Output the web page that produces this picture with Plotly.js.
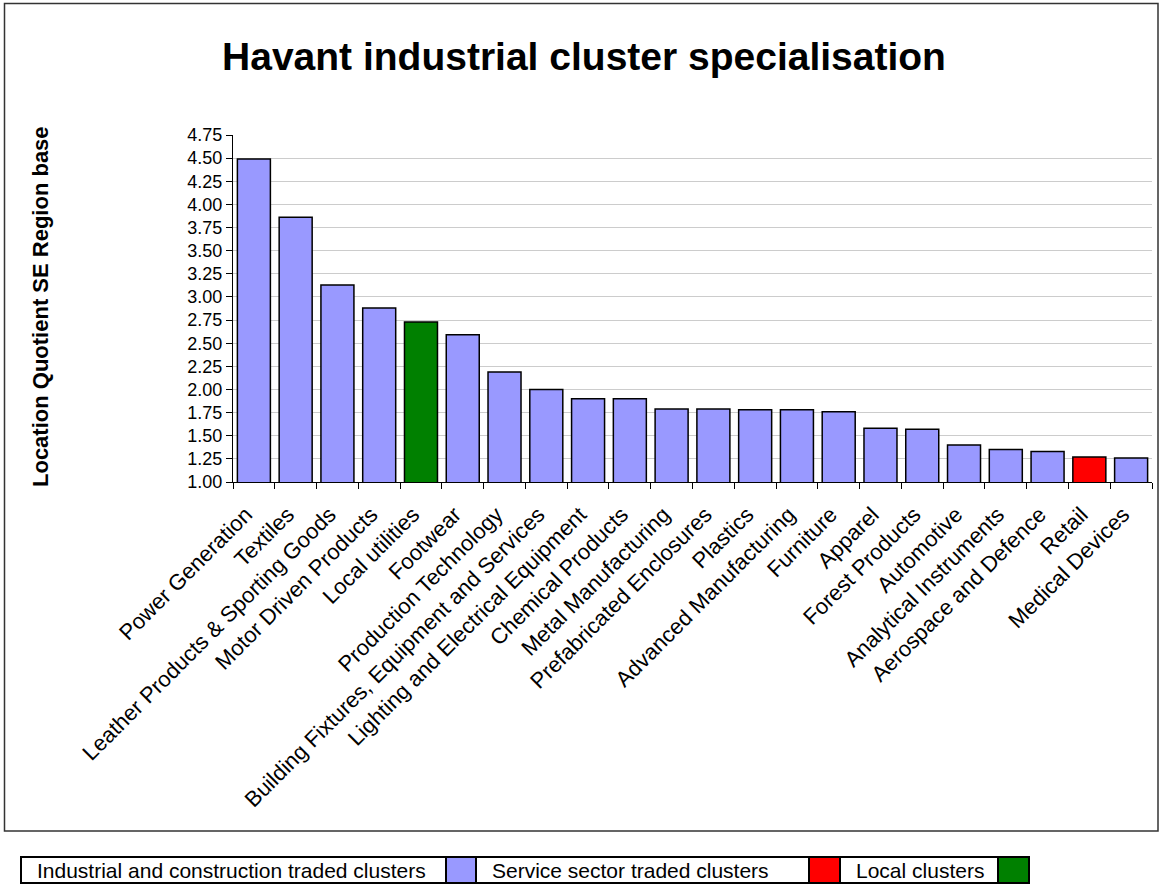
<!DOCTYPE html>
<html>
<head>
<meta charset="utf-8">
<script src="https://cdn.plot.ly/plotly-3.0.1.min.js"></script>
<style>
  html, body { margin: 0; padding: 0; background: #ffffff; }
  #chart { width: 1163px; height: 885px; }
</style>
</head>
<body>
<div id="chart"></div>
<script>
// ---- data ----
const categories = [
  "Power Generation", "Textiles", "Leather Products & Sporting Goods",
  "Motor Driven Products", "Local utilities", "Footwear",
  "Production Technology", "Building Fixtures, Equipment and Services",
  "Lighting and Electrical Equipment", "Chemical Products",
  "Metal Manufacturing", "Prefabricated Enclosures", "Plastics",
  "Advanced Manufacturing", "Furniture", "Apparel", "Forest Products",
  "Automotive", "Analytical Instruments", "Aerospace and Defence",
  "Retail", "Medical Devices"
];
const locationQuotient = [
  4.49, 3.86, 3.13, 2.88, 2.73, 2.59, 2.19, 2.00, 1.90, 1.90,
  1.79, 1.79, 1.78, 1.78, 1.76, 1.58, 1.57, 1.40, 1.35, 1.33,
  1.27, 1.26
];
const clusterType = [
  "industrial", "industrial", "industrial", "industrial", "local", "industrial",
  "industrial", "industrial", "industrial", "industrial", "industrial",
  "industrial", "industrial", "industrial", "industrial", "industrial",
  "industrial", "industrial", "industrial", "industrial", "service", "industrial"
];
const legendLabels = [
  "Industrial and construction traded clusters",
  "Service sector traded clusters",
  "Local clusters"
];
const legendTypes = ["industrial", "service", "local"];
const titleText = "Havant industrial cluster specialisation";
const yTitleText = "Location Quotient SE Region base";

// ---- styles ----
const typeColor = { industrial: "#9999FF", service: "#FF0000", local: "#008000" };
const FONT = "Arial, 'Liberation Sans', sans-serif";
const W = 1163, H = 885;
const M = { l: 233, r: 11, t: 135, b: 403 };
const PW = W - M.l - M.r, PH = H - M.t - M.b;
const px2x = px => (px - M.l) / PW;
const px2y = py => (H - M.b - py) / PH;

const trace = {
  type: "bar",
  x: categories,
  y: locationQuotient,
  marker: {
    color: clusterType.map(t => typeColor[t]),
    line: { color: "#000000", width: 1.5 }
  },
  hoverinfo: "x+y",
  showlegend: false
};

const shapes = [];
const annotations = [];

// outer chart frame
shapes.push({
  type: "rect", xref: "paper", yref: "paper",
  x0: px2x(4.5), x1: px2x(1158), y0: px2y(3.5), y1: px2y(831),
  line: { color: "#333333", width: 1.5 }, fillcolor: "rgba(0,0,0,0)", layer: "below"
});

// y axis title
annotations.push({
  xref: "paper", yref: "paper",
  x: px2x(40), y: px2y(307),
  text: "<b>" + yTitleText + "</b>",
  textangle: -90, showarrow: false,
  font: { family: FONT, size: 22, color: "#000000" },
  xanchor: "center", yanchor: "middle"
});

// table-style legend: text cell followed by colour swatch
const cellEdges = [21, 446, 476, 809, 840, 998, 1029];
const rowTop = 857, rowBot = 883;
legendLabels.forEach((lab, i) => {
  const tx0 = cellEdges[2 * i], tx1 = cellEdges[2 * i + 1], sx1 = cellEdges[2 * i + 2];
  shapes.push({
    type: "rect", xref: "paper", yref: "paper",
    x0: px2x(tx0), x1: px2x(tx1), y0: px2y(rowTop), y1: px2y(rowBot),
    line: { color: "#000000", width: 2 }, fillcolor: "#ffffff"
  });
  shapes.push({
    type: "rect", xref: "paper", yref: "paper",
    x0: px2x(tx1), x1: px2x(sx1), y0: px2y(rowTop), y1: px2y(rowBot),
    line: { color: "#000000", width: 2 }, fillcolor: typeColor[legendTypes[i]]
  });
  annotations.push({
    xref: "paper", yref: "paper",
    x: px2x(tx0 + 14), y: px2y((rowTop + rowBot) / 2),
    text: lab, showarrow: false,
    xanchor: "left", yanchor: "middle",
    font: { family: FONT, size: 21, color: "#000000" }
  });
});

const layout = {
  width: W, height: H,
  margin: M,
  paper_bgcolor: "#ffffff",
  plot_bgcolor: "#ffffff",
  font: { family: FONT, color: "#000000" },
  title: {
    text: "<b>" + titleText + "</b>",
    font: { family: FONT, size: 39, color: "#000000" },
    x: 584 / W, xanchor: "center",
    y: 1 - 56 / H, yanchor: "middle",
    xref: "container", yref: "container"
  },
  bargap: 0.21,
  xaxis: {
    type: "category",
    tickangle: -45,
    tickson: "boundaries",
    ticks: "outside", ticklen: 6, tickwidth: 1, tickcolor: "#000000",
    showline: true, linecolor: "#000000", linewidth: 1,
    showgrid: false,
    tickfont: { family: FONT, size: 22, color: "#000000" },
    ticklabelstandoff: 10,
    ticklabelshift: -8,
    automargin: false
  },
  yaxis: {
    range: [1, 4.75],
    dtick: 0.25, tick0: 1,
    tickformat: ".2f",
    ticks: "outside", ticklen: 6, tickwidth: 1, tickcolor: "#000000",
    showline: true, linecolor: "#000000", linewidth: 1,
    showgrid: true, gridcolor: "#cccccc", gridwidth: 1,
    zeroline: false,
    tickfont: { family: FONT, size: 18, color: "#000000" },
    automargin: false
  },
  shapes: shapes,
  annotations: annotations
};

Plotly.newPlot("chart", [trace], layout, { displayModeBar: false, staticPlot: true });
</script>
</body>
</html>
